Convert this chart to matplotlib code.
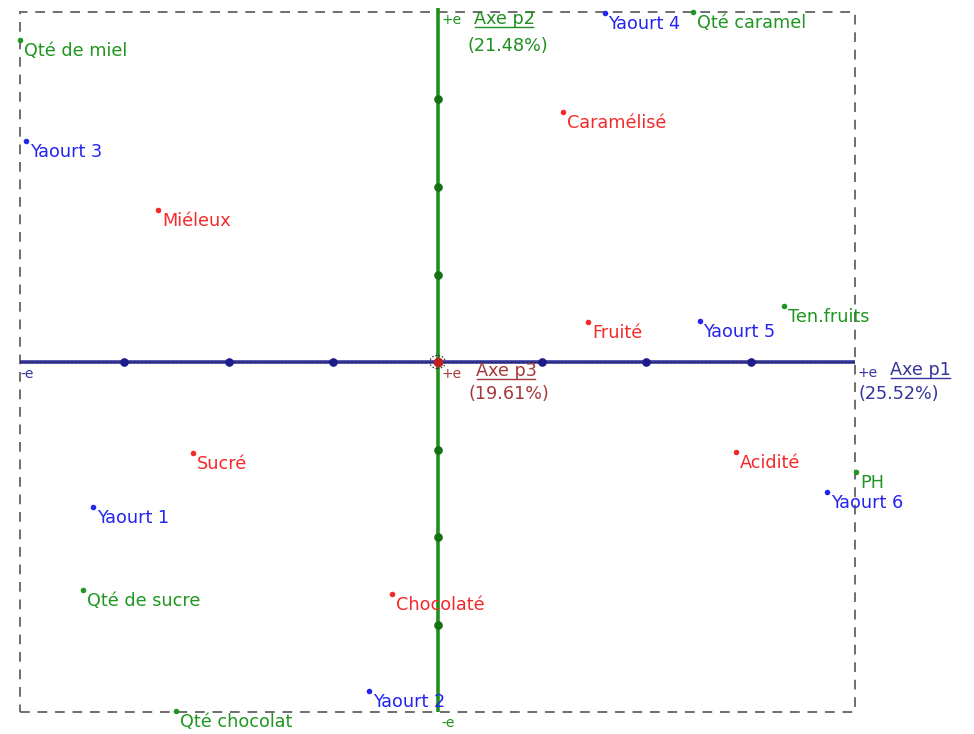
import matplotlib
matplotlib.use("Agg")
import matplotlib.pyplot as plt
from matplotlib.lines import Line2D
from matplotlib.patches import Rectangle, Circle
from matplotlib.transforms import IdentityTransform

plt.rcParams['font.family'] = ['DejaVu Sans']

# Individuals (yoghurts) on the first factorial plane
yaourt_names = ["Yaourt 1", "Yaourt 2", "Yaourt 3", "Yaourt 4", "Yaourt 5", "Yaourt 6"]
yaourt_x = [-3.30, -0.66, -3.94, 1.60, 2.51, 3.73]
yaourt_y = [-1.66, -3.76, 2.52, 3.99, 0.47, -1.49]

# Sensory descriptors
sens_names = ["Miéleux", "Caramélisé", "Fruité", "Acidité", "Sucré", "Chocolaté"]
sens_x = [-2.68, 1.20, 1.44, 2.86, -2.34, -0.44]
sens_y = [1.74, 2.86, 0.46, -1.03, -1.04, -2.65]

# Composition variables
comp_names = ["Qté de miel", "Qté caramel", "Ten.fruits", "PH", "Qté de sucre", "Qté chocolat"]
comp_x = [-4.00, 2.45, 3.32, 4.01, -3.40, -2.51]
comp_y = [3.68, 4.00, 0.64, -1.26, -2.61, -3.99]

# Axes and explained inertia
axis_names = ["Axe p1", "Axe p2", "Axe p3"]
axis_inertia = ["(25.52%)", "(21.48%)", "(19.61%)"]
axis_ticks = [-3, -2, -1, 1, 2, 3]
axis_half = 4

BLUE = "#2424f0"
RED = "#f42a2a"
GREEN = "#1f961f"
AX_BLUE = "#35359c"
AX_GREEN = "#1f8f1f"
AX_RED = "#a33a3a"

fig = plt.figure(figsize=(9.74, 7.34), dpi=100)
ax = fig.add_axes([0, 0, 1, 1])
ax.set_xlim(-4.192, 5.140)
ax.set_ylim(-4.251, 4.137)
ax.axis("off")

FS = 12.7

# dashed frame
ax.add_patch(Rectangle((-axis_half, -axis_half), 2 * axis_half, 2 * axis_half,
                       fill=False, ec="#6e6e6e", lw=1.4, ls=(0, (5, 4)), zorder=1))

# horizontal axis p1
ax.plot([-axis_half, axis_half], [0, 0], color=AX_BLUE, lw=2.6, zorder=2, solid_capstyle="butt")
ax.plot([-axis_half, axis_half], [0, 0], color="#222244", lw=0.7, ls=(0, (2, 2)), zorder=3)
ax.plot(axis_ticks, [0] * len(axis_ticks), "o", color="#1c1c8a", ms=5.2, zorder=4)

# vertical axis p2
ax.plot([0, 0], [-axis_half, axis_half + 0.04], color=AX_GREEN, lw=2.6, zorder=5, solid_capstyle="butt")
ax.plot([0] * len(axis_ticks), axis_ticks, "o", color="#137013", ms=5.2, zorder=6)

# axis p3 seen end-on at the origin
ax.plot([0], [0], "o", color="#c02020", ms=6, zorder=7)
ax.add_patch(Circle((0, 0), 0.075, fill=False, ec="#333333", lw=0.8, ls=(0, (1.5, 1.5)), zorder=8))


def label_points(names, xs, ys, color):
    ax.plot(xs, ys, "o", color=color, ms=4, zorder=9, mec="none")
    for n, x, y in zip(names, xs, ys):
        ax.annotate(n, (x, y), xytext=(4, -2), textcoords="offset pixels",
                    ha="left", va="top", color=color, fontsize=FS, zorder=10,
                    arrowprops=dict(arrowstyle="-", color=color, lw=1.0,
                                    shrinkA=0, shrinkB=0, relpos=(0, 1)))


label_points(yaourt_names, yaourt_x, yaourt_y, BLUE)
label_points(sens_names, sens_x, sens_y, RED)
label_points(comp_names, comp_x, comp_y, GREEN)


def put(text, xy, off, color, size=FS, ha="left", va="center"):
    return ax.annotate(text, xy, xytext=off, textcoords="offset pixels",
                       ha=ha, va=va, color=color, fontsize=size, zorder=11)


SM = 10
underlined = []
# axis p1
put("+e", (axis_half, 0), (2, -11), AX_BLUE, SM)
underlined.append((put(axis_names[0], (axis_half, 0), (35, -8), AX_BLUE), AX_BLUE))
put(axis_inertia[0], (axis_half, 0), (3, -32), AX_BLUE)
put("-e", (-axis_half, 0), (0, -12), AX_BLUE, SM)
# axis p2
put("+e", (0, axis_half), (4, -8), AX_GREEN, SM)
underlined.append((put(axis_names[1], (0, axis_half), (36, -7), AX_GREEN), AX_GREEN))
put(axis_inertia[1], (0, axis_half), (30, -34), AX_GREEN)
put("-e", (0, -axis_half), (4, -11), AX_GREEN, SM)
# axis p3
put("+e", (0, 0), (4, -12), AX_RED, SM)
underlined.append((put(axis_names[2], (0, 0), (38, -9), AX_RED), AX_RED))
put(axis_inertia[2], (0, 0), (31, -32), AX_RED)

fig.canvas.draw()
r = fig.canvas.get_renderer()
for t, c in underlined:
    bb = t.get_window_extent(r)
    yl = bb.y0 + 1
    fig.add_artist(Line2D([bb.x0 + 1, bb.x1 - 1], [yl, yl], color=c, lw=1.0,
                          transform=IdentityTransform()))

fig.savefig("out.png", dpi=100, facecolor="white")
